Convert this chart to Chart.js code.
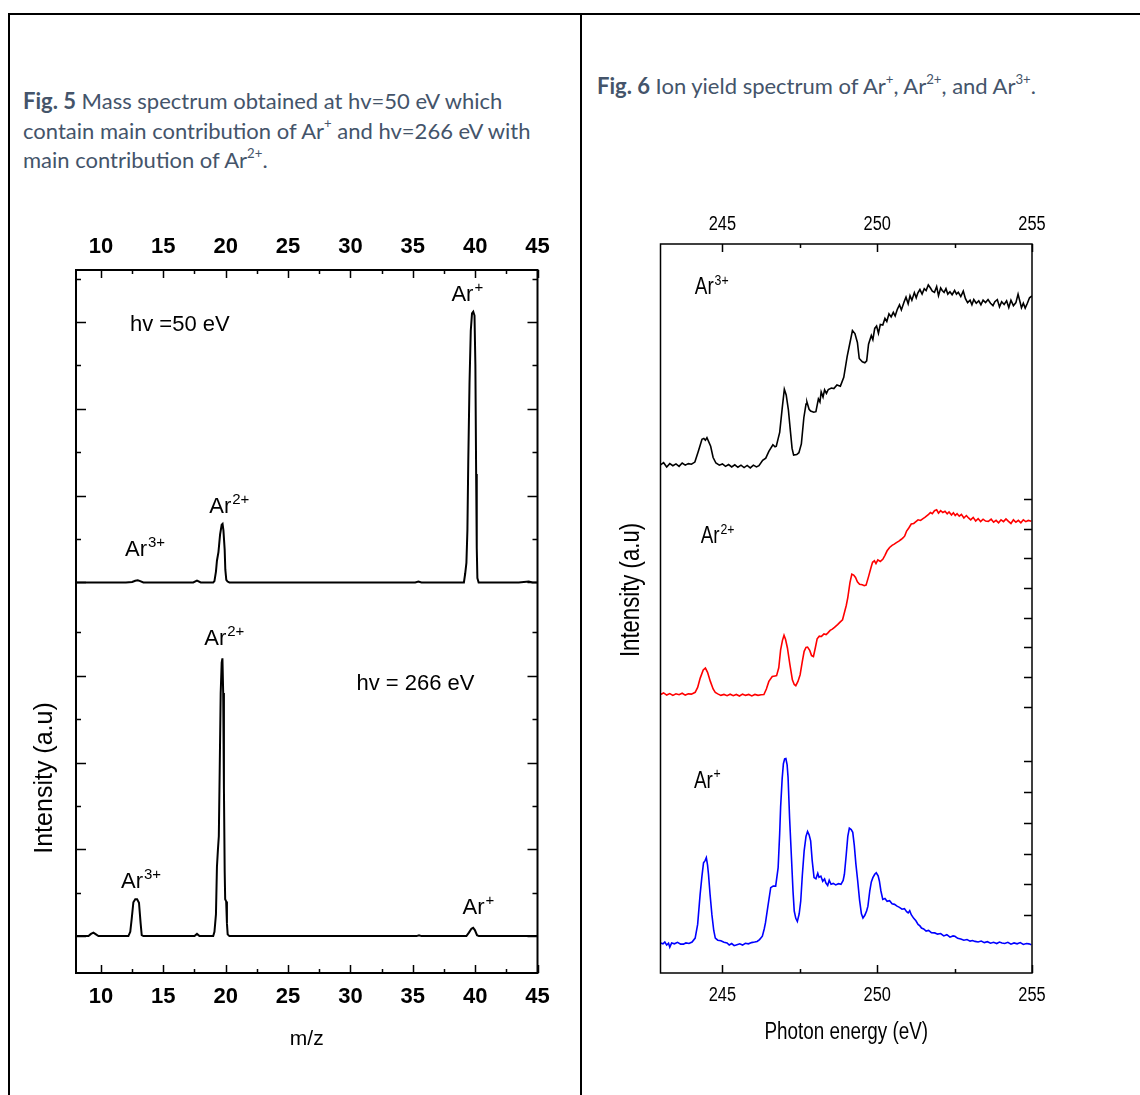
<!DOCTYPE html>
<html>
<head>
<meta charset="utf-8">
<script src="https://cdn.jsdelivr.net/npm/chart.js@4.4.1/dist/chart.umd.min.js"></script>
<style>
  body { margin: 0; background: #fff; }
  #page { position: relative; width: 1140px; height: 1095px; overflow: hidden; }
  .rule { position: absolute; background: #000; }
  .cap {
    position: absolute;
    font-family: Lato, "Open Sans", sans-serif;
    font-size: 22px;
    line-height: 29.5px;
    color: #44546a;
    white-space: nowrap;
  }
  .cap b { font-weight: 700; }
  .cap sup { font-size: 0.6em; line-height: 0; position: relative; top: -0.15em; }
  canvas { position: absolute; }
</style>
</head>
<body>
<div id="page">
  <div class="rule" style="left:8px;top:13px;width:1132px;height:2px"></div>
  <div class="rule" style="left:8px;top:13px;width:2px;height:1082px"></div>
  <div class="rule" style="left:580px;top:13px;width:2px;height:1082px"></div>

  <div class="cap" style="left:23px;top:86px">
    <b>Fig. 5</b> Mass spectrum obtained at hv=50 eV which<br>
    contain main contribution of Ar<sup>+</sup> and hv=266 eV with<br>
    main contribution of Ar<sup>2+</sup>.
  </div>
  <div class="cap" style="left:597px;top:71px">
    <b>Fig. 6</b> Ion yield spectrum of Ar<sup>+</sup>, Ar<sup>2+</sup>, and Ar<sup>3+</sup>.
  </div>

  <canvas id="massChart" width="580" height="905" style="left:0;top:190px"></canvas>
  <canvas id="yieldChart" width="558" height="905" style="left:582px;top:190px"></canvas>
</div>

<script>
// ---- Fig. 5: mass spectra (m/z, intensity a.u.) ----
const mzTicks = [10, 15, 20, 25, 30, 35, 40, 45];
const mzMinorTicks = [12.5, 17.5, 22.5, 27.5, 32.5, 37.5, 42.5];
// intensity ticks of each stacked panel, relative to its own baseline
const panelTicks = [0, 1, 2, 3, 4, 5, 6, 7];
const upperOffset = 8.15;

const spectrum50eV = [
  [8.0, 0], [9.0, 0], [10.0, 0], [11.0, 0], [12.0, 0], [12.5, 0.01], [12.75, 0.04],
  [12.95, 0.05], [13.15, 0.03], [13.4, 0], [15.0, 0], [17.4, 0], [17.7, 0.04], [18.0, 0],
  [19.0, 0], [19.1, 0.03], [19.22, 0.25], [19.3, 0.5], [19.42, 0.7], [19.55, 1.1],
  [19.68, 1.33], [19.75, 1.35], [19.82, 1.2], [19.92, 0.75], [19.97, 0.3], [20.05, 0.06],
  [20.15, 0.02], [20.3, 0], [25.0, 0], [30.0, 0], [35.2, 0], [35.45, 0.02], [35.7, 0],
  [39.1, 0], [39.2, 0.2], [39.3, 0.45], [39.38, 1.2], [39.45, 2.8], [39.55, 4.6],
  [39.65, 5.8], [39.75, 6.2], [39.85, 6.24], [39.95, 6.15], [40.02, 5.0], [40.08, 2.5],
  [40.13, 0.8], [40.18, 0.1], [40.28, 0], [43.5, 0], [44.3, 0.02], [44.6, 0], [45.0, 0]
];

const spectrum266eV = [
  [8.0, 0], [9.0, 0], [9.2, 0.05], [9.4, 0.08], [9.6, 0.04], [9.8, 0], [12.2, 0],
  [12.35, 0.1], [12.47, 0.41], [12.6, 0.78], [12.75, 0.85], [12.9, 0.85], [13.05, 0.77],
  [13.18, 0.3], [13.27, 0.02], [13.4, 0], [17.5, 0], [17.7, 0.05], [17.9, 0], [19.0, 0],
  [19.1, 0.1], [19.22, 0.5], [19.3, 1.6], [19.38, 2.0], [19.45, 2.3], [19.52, 3.8],
  [19.6, 5.6], [19.68, 6.3], [19.74, 6.4], [19.8, 5.6], [19.86, 3.4], [19.92, 1.5],
  [19.96, 0.85], [20.04, 0.8], [20.1, 0.3], [20.16, 0.04], [20.3, 0], [35.3, 0],
  [35.5, 0.02], [35.7, 0], [39.3, 0], [39.5, 0.08], [39.7, 0.17], [39.84, 0.19],
  [39.98, 0.14], [40.15, 0.02], [40.3, 0], [45.0, 0]
];

// ---- Fig. 6: ion yield (photon energy eV, intensity a.u.) ----
const evTicks = [245, 250, 255];
const evMinorTicks = [247.5, 252.5];
const yieldTicks = [1.91, 2.92, 3.93, 4.95, 5.97, 6.98,
  8.77, 9.74, 10.72, 11.69, 12.67, 13.65, 14.62, 15.59];

const yieldAr3 = [
  [243.00, 16.73], [243.10, 16.80], [243.20, 16.66], [243.30, 16.77], [243.40, 16.70],
  [243.50, 16.76], [243.60, 16.68], [243.70, 16.79], [243.80, 16.72], [243.90, 16.77],
  [244.00, 16.75], [244.11, 16.82], [244.22, 17.17], [244.34, 17.57], [244.40, 17.60],
  [244.45, 17.54], [244.50, 17.62], [244.62, 17.34], [244.70, 16.97], [244.79, 16.79],
  [244.90, 16.72], [245.00, 16.76], [245.10, 16.68], [245.20, 16.74], [245.30, 16.66],
  [245.40, 16.73], [245.50, 16.65], [245.60, 16.72], [245.70, 16.64], [245.80, 16.71],
  [245.90, 16.63], [246.00, 16.72], [246.10, 16.66], [246.18, 16.70], [246.30, 16.88],
  [246.40, 16.95], [246.50, 17.17], [246.63, 17.39], [246.70, 17.32], [246.74, 17.34],
  [246.85, 17.80], [246.93, 18.58], [247.00, 19.22], [247.06, 19.03], [247.13, 18.55],
  [247.20, 17.80], [247.25, 17.27], [247.30, 17.05], [247.40, 17.07], [247.47, 17.13],
  [247.55, 17.42], [247.63, 18.28], [247.70, 18.73], [247.73, 18.80], [247.80, 18.56],
  [247.85, 18.50], [247.95, 18.46], [248.02, 18.48], [248.10, 18.90], [248.15, 18.80],
  [248.19, 19.13], [248.25, 18.96], [248.30, 19.20], [248.36, 19.08], [248.42, 19.21],
  [248.52, 19.26], [248.60, 19.24], [248.70, 19.36], [248.81, 19.32], [248.92, 19.61],
  [249.03, 20.30], [249.10, 20.65], [249.20, 21.15], [249.28, 21.05], [249.36, 20.76],
  [249.42, 20.23], [249.52, 20.12], [249.60, 20.09], [249.66, 20.15], [249.72, 20.70],
  [249.81, 20.99], [249.86, 20.85], [249.92, 21.22], [249.98, 21.30], [250.04, 21.06],
  [250.10, 21.35], [250.18, 21.33], [250.25, 21.55], [250.31, 21.45], [250.38, 21.70],
  [250.45, 21.60], [250.52, 21.75], [250.58, 21.63], [250.65, 21.85], [250.72, 22.00],
  [250.78, 21.83], [250.87, 22.10], [250.93, 22.25], [251.00, 22.03], [251.06, 22.30],
  [251.12, 22.15], [251.20, 22.40], [251.26, 22.23], [251.31, 22.38], [251.38, 22.50],
  [251.45, 22.35], [251.52, 22.53], [251.58, 22.47], [251.65, 22.65], [251.72, 22.55],
  [251.78, 22.45], [251.85, 22.41], [251.92, 22.60], [251.98, 22.30], [252.05, 22.55],
  [252.10, 22.47], [252.16, 22.41], [252.22, 22.53], [252.28, 22.35], [252.35, 22.43],
  [252.42, 22.33], [252.50, 22.47], [252.56, 22.35], [252.62, 22.41], [252.70, 22.27],
  [252.78, 22.45], [252.85, 22.20], [252.92, 22.07], [253.00, 22.15], [253.06, 22.00],
  [253.12, 22.17], [253.20, 22.05], [253.28, 22.13], [253.35, 22.00], [253.42, 22.15],
  [253.50, 22.07], [253.58, 22.17], [253.66, 22.05], [253.74, 21.97], [253.80, 22.10],
  [253.88, 22.17], [253.95, 21.93], [254.02, 22.10], [254.10, 22.01], [254.18, 22.13],
  [254.25, 21.91], [254.32, 22.15], [254.40, 21.97], [254.48, 22.07], [254.55, 22.35],
  [254.60, 22.15], [254.66, 21.90], [254.72, 22.05], [254.78, 21.89], [254.85, 22.05],
  [254.92, 22.23], [255.00, 22.29]
];

const yieldAr2 = [
  [243.00, 9.17], [243.10, 9.22], [243.20, 9.15], [243.30, 9.20], [243.40, 9.14],
  [243.50, 9.19], [243.60, 9.16], [243.70, 9.21], [243.80, 9.15], [243.90, 9.19],
  [244.00, 9.18], [244.12, 9.24], [244.20, 9.40], [244.28, 9.70], [244.38, 9.98],
  [244.45, 10.04], [244.52, 9.90], [244.61, 9.60], [244.70, 9.35], [244.77, 9.24],
  [244.85, 9.19], [244.95, 9.14], [245.05, 9.17], [245.15, 9.13], [245.25, 9.18],
  [245.35, 9.13], [245.45, 9.17], [245.55, 9.12], [245.65, 9.18], [245.75, 9.14],
  [245.85, 9.17], [245.95, 9.12], [246.05, 9.17], [246.15, 9.14], [246.25, 9.16],
  [246.34, 9.17], [246.42, 9.35], [246.50, 9.60], [246.61, 9.76], [246.70, 9.78],
  [246.75, 9.79], [246.82, 10.05], [246.88, 10.64], [246.94, 10.95], [246.99, 11.12],
  [247.04, 10.98], [247.10, 10.70], [247.18, 10.15], [247.26, 9.65], [247.32, 9.50],
  [247.37, 9.46], [247.44, 9.60], [247.51, 9.82], [247.58, 10.25], [247.64, 10.59],
  [247.70, 10.72], [247.75, 10.73], [247.82, 10.62], [247.88, 10.45], [247.94, 10.42],
  [248.00, 10.70], [248.06, 11.00], [248.13, 11.09], [248.20, 11.08], [248.28, 11.16],
  [248.35, 11.14], [248.40, 11.19], [248.48, 11.28], [248.55, 11.32], [248.62, 11.38],
  [248.72, 11.47], [248.80, 11.55], [248.88, 11.63], [248.95, 11.90], [249.00, 12.10],
  [249.05, 12.36], [249.12, 12.85], [249.18, 13.13], [249.24, 13.10], [249.30, 13.02],
  [249.36, 12.88], [249.43, 12.80], [249.52, 12.78], [249.58, 12.75], [249.64, 12.77],
  [249.72, 13.05], [249.80, 13.35], [249.85, 13.52], [249.91, 13.57], [249.96, 13.48],
  [250.02, 13.60], [250.10, 13.55], [250.18, 13.62], [250.25, 13.75], [250.32, 13.90],
  [250.40, 14.01], [250.48, 14.08], [250.55, 14.12], [250.62, 14.17], [250.70, 14.22],
  [250.78, 14.28], [250.84, 14.33], [250.89, 14.39], [250.95, 14.55], [251.02, 14.65],
  [251.10, 14.78], [251.18, 14.80], [251.25, 14.86], [251.32, 14.92], [251.40, 14.90],
  [251.48, 14.96], [251.54, 15.00], [251.60, 15.05], [251.66, 15.10], [251.72, 15.16],
  [251.78, 15.12], [251.85, 15.22], [251.92, 15.25], [251.98, 15.14], [252.05, 15.22],
  [252.12, 15.16], [252.19, 15.20], [252.26, 15.12], [252.32, 15.18], [252.40, 15.08],
  [252.46, 15.15], [252.52, 15.06], [252.58, 15.12], [252.65, 15.04], [252.72, 15.10],
  [252.80, 14.98], [252.88, 15.06], [252.95, 14.98], [253.02, 14.92], [253.10, 15.00],
  [253.18, 14.88], [253.26, 14.96], [253.34, 14.86], [253.42, 14.94], [253.50, 14.88],
  [253.59, 14.87], [253.68, 14.94], [253.76, 14.84], [253.84, 14.90], [253.92, 14.82],
  [254.00, 14.92], [254.08, 14.86], [254.16, 14.95], [254.24, 14.87], [254.32, 14.80],
  [254.40, 14.92], [254.48, 14.84], [254.56, 14.90], [254.64, 14.82], [254.72, 14.92],
  [254.80, 14.86], [254.88, 14.90], [254.98, 14.87]
];

const yieldAr1 = [
  [243.00, 0.99], [243.08, 0.96], [243.14, 1.02], [243.20, 0.92], [243.26, 0.98],
  [243.30, 0.85], [243.36, 0.99], [243.45, 0.96], [243.55, 1.01], [243.65, 0.95],
  [243.74, 0.95], [243.82, 0.99], [243.92, 0.97], [244.02, 1.02], [244.12, 1.15],
  [244.20, 1.60], [244.28, 2.59], [244.34, 3.20], [244.39, 3.63], [244.44, 3.70],
  [244.48, 3.80], [244.52, 3.55], [244.55, 3.25], [244.60, 2.60], [244.66, 1.92],
  [244.72, 1.40], [244.77, 1.15], [244.85, 1.08], [244.95, 1.06], [245.05, 1.01],
  [245.15, 0.99], [245.22, 0.92], [245.30, 0.97], [245.38, 0.90], [245.47, 0.93],
  [245.56, 0.96], [245.65, 0.92], [245.74, 0.98], [245.84, 0.96], [245.94, 1.00],
  [246.04, 1.02], [246.12, 1.04], [246.20, 1.10], [246.29, 1.21], [246.35, 1.45],
  [246.39, 1.65], [246.47, 2.20], [246.56, 2.81], [246.64, 2.86], [246.72, 2.86],
  [246.80, 3.47], [246.85, 4.60], [246.88, 5.46], [246.93, 6.40], [246.97, 6.89],
  [247.01, 7.05], [247.05, 7.06], [247.09, 6.85], [247.12, 6.45], [247.17, 5.10],
  [247.23, 3.80], [247.28, 2.70], [247.32, 2.04], [247.37, 1.80], [247.42, 1.70],
  [247.48, 1.95], [247.53, 2.37], [247.58, 3.20], [247.64, 4.02], [247.70, 4.50],
  [247.75, 4.66], [247.80, 4.55], [247.85, 4.35], [247.90, 3.70], [247.96, 3.14],
  [248.02, 3.10], [248.08, 3.28], [248.12, 3.15], [248.18, 3.19], [248.24, 3.02],
  [248.30, 3.10], [248.34, 2.97], [248.40, 2.88], [248.45, 3.05], [248.51, 2.92],
  [248.58, 2.95], [248.66, 2.90], [248.75, 2.94], [248.83, 2.92], [248.90, 3.05],
  [248.94, 3.25], [249.00, 3.90], [249.05, 4.50], [249.10, 4.77], [249.16, 4.72],
  [249.21, 4.63], [249.26, 4.20], [249.31, 3.60], [249.37, 3.03], [249.43, 2.40],
  [249.49, 1.95], [249.54, 1.81], [249.60, 1.90], [249.66, 2.05], [249.70, 2.20],
  [249.76, 2.70], [249.81, 3.00], [249.86, 3.14], [249.92, 3.25], [249.97, 3.30],
  [250.03, 3.20], [250.07, 3.03], [250.12, 2.70], [250.18, 2.42], [250.25, 2.45],
  [250.32, 2.36], [250.40, 2.38], [250.48, 2.28], [250.56, 2.26], [250.64, 2.20],
  [250.72, 2.16], [250.80, 2.10], [250.88, 2.12], [250.95, 2.02], [251.00, 1.98],
  [251.05, 2.05], [251.10, 1.92], [251.18, 1.80], [251.25, 1.72], [251.32, 1.60],
  [251.38, 1.55], [251.43, 1.48], [251.50, 1.45], [251.58, 1.38], [251.66, 1.40],
  [251.75, 1.33], [251.86, 1.32], [251.95, 1.28], [252.05, 1.30], [252.15, 1.22],
  [252.25, 1.26], [252.35, 1.18], [252.45, 1.22], [252.51, 1.21], [252.60, 1.14],
  [252.70, 1.12], [252.80, 1.08], [252.90, 1.10], [253.00, 1.05], [253.08, 1.07],
  [253.16, 1.04], [253.26, 1.02], [253.36, 1.05], [253.46, 1.00], [253.56, 1.03],
  [253.66, 0.98], [253.76, 1.01], [253.86, 0.97], [253.95, 1.02], [254.03, 0.99],
  [254.12, 0.97], [254.22, 1.01], [254.32, 0.95], [254.42, 0.99], [254.52, 0.96],
  [254.62, 1.00], [254.72, 0.94], [254.82, 0.97], [254.90, 0.96], [254.98, 0.93]
];

const SANS = '"Liberation Sans", Arial, sans-serif';

function toPoints(pairs, offset) {
  return pairs.map(([x, y]) => ({ x, y: y + offset }));
}

function traceDataset(points, color, width) {
  return {
    data: points,
    showLine: true,
    borderColor: color,
    borderWidth: width,
    pointRadius: 0,
    tension: 0,
    fill: false
  };
}

// draws "Ar" followed by a raised charge, optionally squeezed horizontally
function drawIon(ctx, base, sup, x, y, size, squeeze) {
  ctx.save();
  ctx.translate(x, y);
  ctx.scale(squeeze, 1);
  ctx.font = size + 'px ' + SANS;
  ctx.fillText(base, 0, 0);
  const w = ctx.measureText(base).width;
  if (sup) {
    ctx.font = Math.round(size * 0.66) + 'px ' + SANS;
    ctx.fillText(sup, w + 1, -size * 0.42);
  }
  ctx.restore();
}

// box frame plus inward tick marks on all four sides
const framePlugin = {
  id: 'frame',
  afterDatasetsDraw(chart, args, opts) {
    const { ctx, chartArea: a, scales } = chart;
    const xs = scales.x, ys = scales.y;
    ctx.save();
    ctx.strokeStyle = '#000';
    ctx.lineWidth = opts.lineWidth;
    ctx.strokeRect(a.left, a.top, a.right - a.left, a.bottom - a.top);
    ctx.beginPath();
    const xTick = (v, len) => {
      const px = Math.round(xs.getPixelForValue(v)) + 0.5;
      ctx.moveTo(px, a.top); ctx.lineTo(px, a.top + len);
      ctx.moveTo(px, a.bottom); ctx.lineTo(px, a.bottom - len);
    };
    const yTick = (v, len) => {
      const py = Math.round(ys.getPixelForValue(v)) + 0.5;
      if (opts.leftTicks) { ctx.moveTo(a.left, py); ctx.lineTo(a.left + len, py); }
      ctx.moveTo(a.right, py); ctx.lineTo(a.right - len, py);
    };
    opts.xMajor.forEach(v => xTick(v, opts.xMajorLen));
    opts.xMinor.forEach(v => xTick(v, opts.xMinorLen));
    opts.yMajor.forEach(v => yTick(v, opts.yMajorLen));
    opts.yMinor.forEach(v => yTick(v, opts.yMinorLen));
    ctx.lineWidth = opts.tickWidth;
    ctx.stroke();
    ctx.restore();
  }
};

// peak labels (anchored in data units), condensed tick labels and axis titles
const notePlugin = {
  id: 'notes',
  afterDraw(chart, args, opts) {
    const { ctx, chartArea: a, scales } = chart;
    ctx.save();
    ctx.fillStyle = '#000';
    ctx.textBaseline = 'alphabetic';
    opts.items.forEach(it => {
      const x = scales.x.getPixelForValue(it.at[0]);
      const y = scales.y.getPixelForValue(it.at[1]);
      drawIon(ctx, it.text, it.sup, x, y, opts.size, opts.squeeze);
    });
    const put = (text, x, y, size, rotate) => {
      ctx.save();
      ctx.translate(x, y);
      if (rotate) ctx.rotate(-Math.PI / 2);
      ctx.scale(opts.squeeze, 1);
      ctx.font = size + 'px ' + SANS;
      ctx.textAlign = 'center';
      ctx.textBaseline = 'middle';
      ctx.fillText(text, 0, 0);
      ctx.restore();
    };
    if (opts.tickLabels) {
      const tl = opts.tickLabels;
      tl.values.forEach(v => {
        const px = scales.x.getPixelForValue(v);
        put(String(v), px, a.top - tl.gapTop, tl.size, false);
        put(String(v), px, a.bottom + tl.gapBottom, tl.size, false);
      });
    }
    opts.titles.forEach(t => put(t.text, a.left + t.dx, a.bottom + t.dy, t.size, t.rotate));
    ctx.restore();
  }
};

function topBottomAxis(position, min, max, ticks, height, padding, font, showLabels) {
  return {
    type: 'linear',
    position,
    min,
    max,
    afterBuildTicks: s => { s.ticks = ticks.map(v => ({ value: v })); },
    afterFit: s => { s.height = height; },
    grid: { display: false, drawTicks: false },
    border: { display: false },
    ticks: { display: showLabels, padding, color: '#000', font, autoSkip: false, maxRotation: 0 }
  };
}

const upperTicks = panelTicks.map(t => t + upperOffset);
const boldTicks = { family: SANS, size: 22, weight: 'bold' };

new Chart(document.getElementById('massChart'), {
  type: 'scatter',
  data: {
    datasets: [
      traceDataset(toPoints(spectrum50eV, upperOffset), '#000', 2),
      traceDataset(toPoints(spectrum266eV, 0), '#000', 2)
    ]
  },
  options: {
    responsive: false,
    animation: false,
    events: [],
    layout: { padding: { left: 76, right: 42.5, top: 20, bottom: 62 } },
    scales: {
      x: topBottomAxis('bottom', 8, 45, mzTicks, 60, 11, boldTicks, true),
      x2: topBottomAxis('top', 8, 45, mzTicks, 60, 10, boldTicks, true),
      y: { min: -0.85, max: 15.35, display: false }
    },
    plugins: {
      legend: { display: false },
      tooltip: { enabled: false },
      frame: {
        lineWidth: 2,
        tickWidth: 1.5,
        leftTicks: true,
        xMajor: mzTicks, xMinor: mzMinorTicks,
        yMajor: panelTicks.filter(t => t % 2 === 0).concat(upperTicks.filter((t, i) => i % 2 === 0)),
        yMinor: panelTicks.filter(t => t % 2 === 1).concat(upperTicks.filter((t, i) => i % 2 === 1)),
        xMajorLen: 8, xMinorLen: 4, yMajorLen: 10, yMinorLen: 5
      },
      notes: {
        size: 22,
        squeeze: 1,
        items: [
          { text: 'Ar', sup: '+', at: [38.1, 14.63] },
          { text: 'hv =50 eV', sup: '', at: [12.33, 13.94] },
          { text: 'Ar', sup: '2+', at: [18.68, 9.75] },
          { text: 'Ar', sup: '3+', at: [11.93, 8.76] },
          { text: 'Ar', sup: '2+', at: [18.28, 6.70] },
          { text: 'hv = 266 eV', sup: '', at: [30.48, 5.67] },
          { text: 'Ar', sup: '3+', at: [11.61, 1.11] },
          { text: 'Ar', sup: '+', at: [38.99, 0.51] }
        ],
        titles: [
          { text: 'm/z', dx: 230.75, dy: 66, size: 21 },
          { text: 'Intensity (a.u)', dx: -31, dy: -195, size: 25, rotate: true }
        ]
      }
    }
  },
  plugins: [framePlugin, notePlugin]
});

new Chart(document.getElementById('yieldChart'), {
  type: 'scatter',
  data: {
    datasets: [
      traceDataset(toPoints(yieldAr3, 0), '#000', 1.6),
      traceDataset(toPoints(yieldAr2, 0), '#ff0000', 1.6),
      traceDataset(toPoints(yieldAr1, 0), '#0000ff', 1.6)
    ]
  },
  options: {
    responsive: false,
    animation: false,
    events: [],
    layout: { padding: { left: 78.5, right: 108, top: 14, bottom: 82 } },
    scales: {
      x: topBottomAxis('bottom', 243, 255, evTicks, 40, 0, {}, false),
      x2: topBottomAxis('top', 243, 255, evTicks, 40, 0, {}, false),
      y: { min: 0, max: 24, display: false }
    },
    plugins: {
      legend: { display: false },
      tooltip: { enabled: false },
      frame: {
        lineWidth: 1.5,
        tickWidth: 1.5,
        leftTicks: false,
        xMajor: evTicks, xMinor: evMinorTicks,
        yMajor: yieldTicks, yMinor: [],
        xMajorLen: 8, xMinorLen: 4, yMajorLen: 8, yMinorLen: 4
      },
      notes: {
        size: 23,
        squeeze: 0.82,
        items: [
          { text: 'Ar', sup: '3+', at: [244.11, 22.34] },
          { text: 'Ar', sup: '2+', at: [244.30, 14.14] },
          { text: 'Ar', sup: '+', at: [244.08, 6.09] }
        ],
        tickLabels: { values: evTicks, size: 20, gapTop: 20, gapBottom: 22 },
        titles: [
          { text: 'Photon energy (eV)', dx: 185.75, dy: 60, size: 23 },
          { text: 'Intensity (a.u)', dx: -28.5, dy: -383, size: 27, rotate: true }
        ]
      }
    }
  },
  plugins: [framePlugin, notePlugin]
});
</script>
</body>
</html>
